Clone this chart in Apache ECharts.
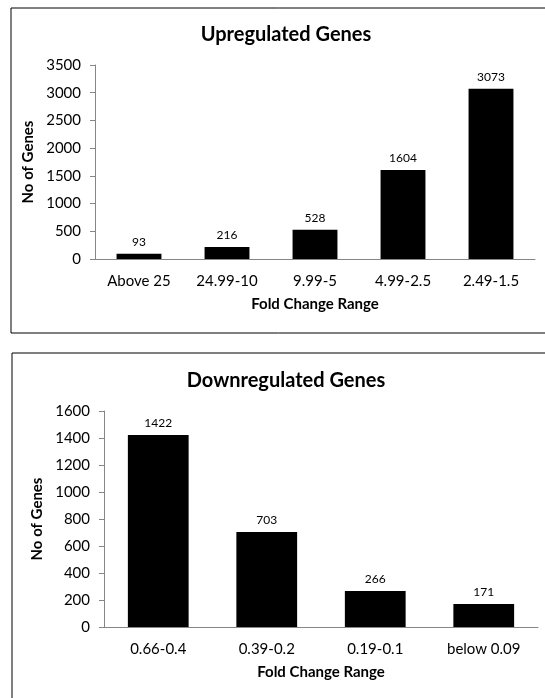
<!DOCTYPE html>
<html>
<head>
<meta charset="utf-8">
<script src="https://cdn.jsdelivr.net/npm/echarts@6/dist/echarts.min.js"></script>
<style>
html,body{margin:0;padding:0;background:#fff;}
#c{width:545px;height:698px;}
</style>
</head>
<body>
<div id="c"></div>
<script>
const upTitle = "Upregulated Genes";
const upCategories = ["Above 25", "24.99-10", "9.99-5", "4.99-2.5", "2.49-1.5"];
const upValues = [93, 216, 528, 1604, 3073];
const upMax = 3500, upInterval = 500;

const downTitle = "Downregulated Genes";
const downCategories = ["0.66-0.4", "0.39-0.2", "0.19-0.1", "below 0.09"];
const downValues = [1422, 703, 266, 171];
const downMax = 1600, downInterval = 200;

const xName = "Fold Change Range";
const yName = "No of Genes";

const FONT = "Lato, 'Open Sans', sans-serif";
const axisGray = "#868686";

function xAxisDef(gridIndex, cats) {
  return {
    type: "category", gridIndex, data: cats,
    axisLine: { lineStyle: { color: axisGray, width: 1 } },
    axisTick: { show: false },
    axisLabel: { color: "#000", fontFamily: FONT, fontSize: 15, margin: 15 },
    name: xName, nameLocation: "middle", nameGap: 38,
    nameTextStyle: { color: "#000", fontFamily: FONT, fontSize: 15, fontWeight: "bold" }
  };
}
function yAxisDef(gridIndex, max, interval, gap) {
  return {
    type: "value", gridIndex, min: 0, max, interval,
    axisLine: { show: true, lineStyle: { color: axisGray, width: 1 } },
    axisTick: { show: true, length: 5, lineStyle: { color: axisGray } },
    splitLine: { show: false },
    axisLabel: { color: "#000", fontFamily: FONT, fontSize: 15, margin: 14,
      formatter: v => String(v) },
    name: yName, nameLocation: "middle", nameGap: gap, nameRotate: 90,
    nameTextStyle: { color: "#000", fontFamily: FONT, fontSize: 15, fontWeight: "bold" }
  };
}
function barSeries(idx, vals, gap) {
  return {
    type: "bar", xAxisIndex: idx, yAxisIndex: idx, data: vals,
    barCategoryGap: gap,
    itemStyle: { color: "#000" },
    label: { show: true, position: "top", distance: 6, color: "#000", fontFamily: FONT, fontSize: 12 },
    animation: false
  };
}

const chart = echarts.init(document.getElementById("c"), null, { renderer: "canvas" });
chart.setOption({
  animation: false,
  backgroundColor: "#fff",
  graphic: [
    { type: "rect", shape: { x: 11, y: 8, width: 560, height: 325 },
      style: { fill: "none", stroke: "#000", lineWidth: 1 } },
    { type: "rect", shape: { x: 12, y: 353, width: 560, height: 360 },
      style: { fill: "none", stroke: "#000", lineWidth: 1 } }
  ],
  title: [
    { text: upTitle, left: 281, top: 20, textAlign: "center",
      textStyle: { fontFamily: FONT, fontSize: 20, fontWeight: "bold", color: "#000" } },
    { text: downTitle, left: 281, top: 366, textAlign: "center",
      textStyle: { fontFamily: FONT, fontSize: 20, fontWeight: "bold", color: "#000" } }
  ],
  grid: [
    { left: 95, right: 10, top: 65, height: 194 },
    { left: 104, right: 7, top: 411, height: 216 }
  ],
  xAxis: [xAxisDef(0, upCategories), xAxisDef(1, downCategories)],
  yAxis: [yAxisDef(0, upMax, upInterval, 47), yAxisDef(1, downMax, downInterval, 42)],
  series: [barSeries(0, upValues, "49%"), barSeries(1, downValues, "44%")]
});
</script>
</body>
</html>
